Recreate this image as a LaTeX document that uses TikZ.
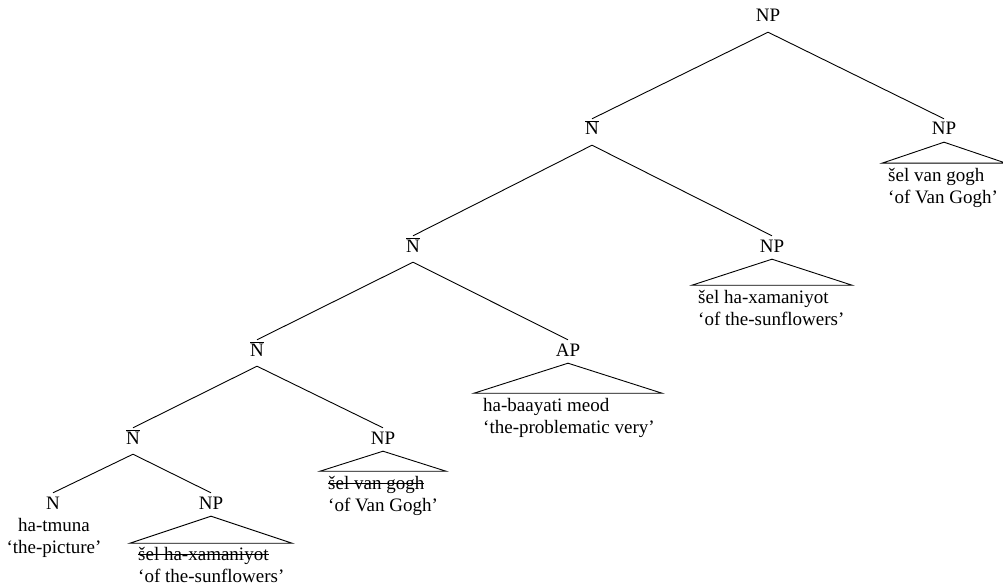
\documentclass[tikz,border=0pt]{standalone}
\usepackage{fontspec}
\setmainfont{Liberation Serif}
\begin{document}
\begin{tikzpicture}[x=1pt,y=1pt,
  lab/.style={inner sep=0pt, anchor=base, text height=16pt, text depth=10pt, font=\fontsize{19}{22}\selectfont},
  txt/.style={inner sep=0pt, anchor=base west, font=\fontsize{19}{22}\selectfont},
  ctxt/.style={inner sep=0pt, anchor=base, font=\fontsize{19}{22}\selectfont},
  br/.style={line width=0.9pt},
  tri/.style={line width=0.9pt, line join=miter}]
\useasboundingbox (0,0) rectangle (1003,-585);
% labels
\node[lab] (root) at (768,-22) {NP};
\node[lab] (n1) at (592,-135) {$\overline{\mbox{N}}$};
\node[lab] (npR) at (944,-135) {NP};
\node[lab] (n2) at (413,-252) {$\overline{\mbox{N}}$};
\node[lab] (npM) at (772,-252) {NP};
\node[lab] (n3) at (257,-356) {$\overline{\mbox{N}}$};
\node[lab] (ap) at (568,-356) {AP};
\node[lab] (n4) at (133,-444) {$\overline{\mbox{N}}$};
\node[lab] (np4) at (383,-444) {NP};
\node[lab] (n) at (53,-509) {N};
\node[lab] (np5) at (211,-509) {NP};
% branches
\draw[br] (root.south) -- (n1.north);
\draw[br] (root.south) -- (npR.north);
\draw[br] (n1.south) -- (n2.north);
\draw[br] (n1.south) -- (npM.north);
\draw[br] (n2.south) -- (n3.north);
\draw[br] (n2.south) -- (ap.north);
\draw[br] (n3.south) -- (n4.north);
\draw[br] (n3.south) -- (np4.north);
\draw[br] (n4.south) -- (n.north);
\draw[br] (n4.south) -- (np5.north);
% triangles
\draw[tri] ([yshift=3pt]npR.south) -- ++(-62,-21) -- ++(124,0) -- cycle;
\draw[tri] ([yshift=3pt]npM.south) -- ++(-80,-26) -- ++(160,0) -- cycle;
\draw[tri] ([yshift=3pt]ap.south) -- ++(-94,-30) -- ++(188,0) -- cycle;
\draw[tri] ([yshift=3pt]np4.south) -- ++(-63,-20) -- ++(126,0) -- cycle;
\draw[tri] ([yshift=3pt]np5.south) -- ++(-81,-27) -- ++(162,0) -- cycle;
% texts
\node[txt] (tR1) at (888,-182) {šel van gogh};
\node[txt] (tR2) at (888,-204) {‘of Van Gogh’};
\node[txt] (tM1) at (698,-303) {šel ha-xamaniyot};
\node[txt] (tM2) at (698,-325) {‘of the-sunflowers’};
\node[txt] (tA1) at (483,-411) {ha-baayati meod};
\node[txt] (tA2) at (483,-433) {‘the-problematic very’};
\node[txt] (t41) at (328,-489) {šel van gogh};
\node[txt] (t42) at (328,-511) {‘of Van Gogh’};
\node[ctxt] (tN1) at (54,-531) {ha-tmuna};
\node[ctxt] (tN2) at (54,-553) {‘the-picture’};
\node[txt] (t51) at (138,-560) {šel ha-xamaniyot};
\node[txt] (t52) at (138,-582) {‘of the-sunflowers’};
% strike-outs
\draw[line width=0.9pt] ([yshift=5.5pt]t41.base west) -- ([yshift=5.5pt]t41.base east);
\draw[line width=0.9pt] ([yshift=5.5pt]t51.base west) -- ([yshift=5.5pt]t51.base east);
\end{tikzpicture}
\end{document}
